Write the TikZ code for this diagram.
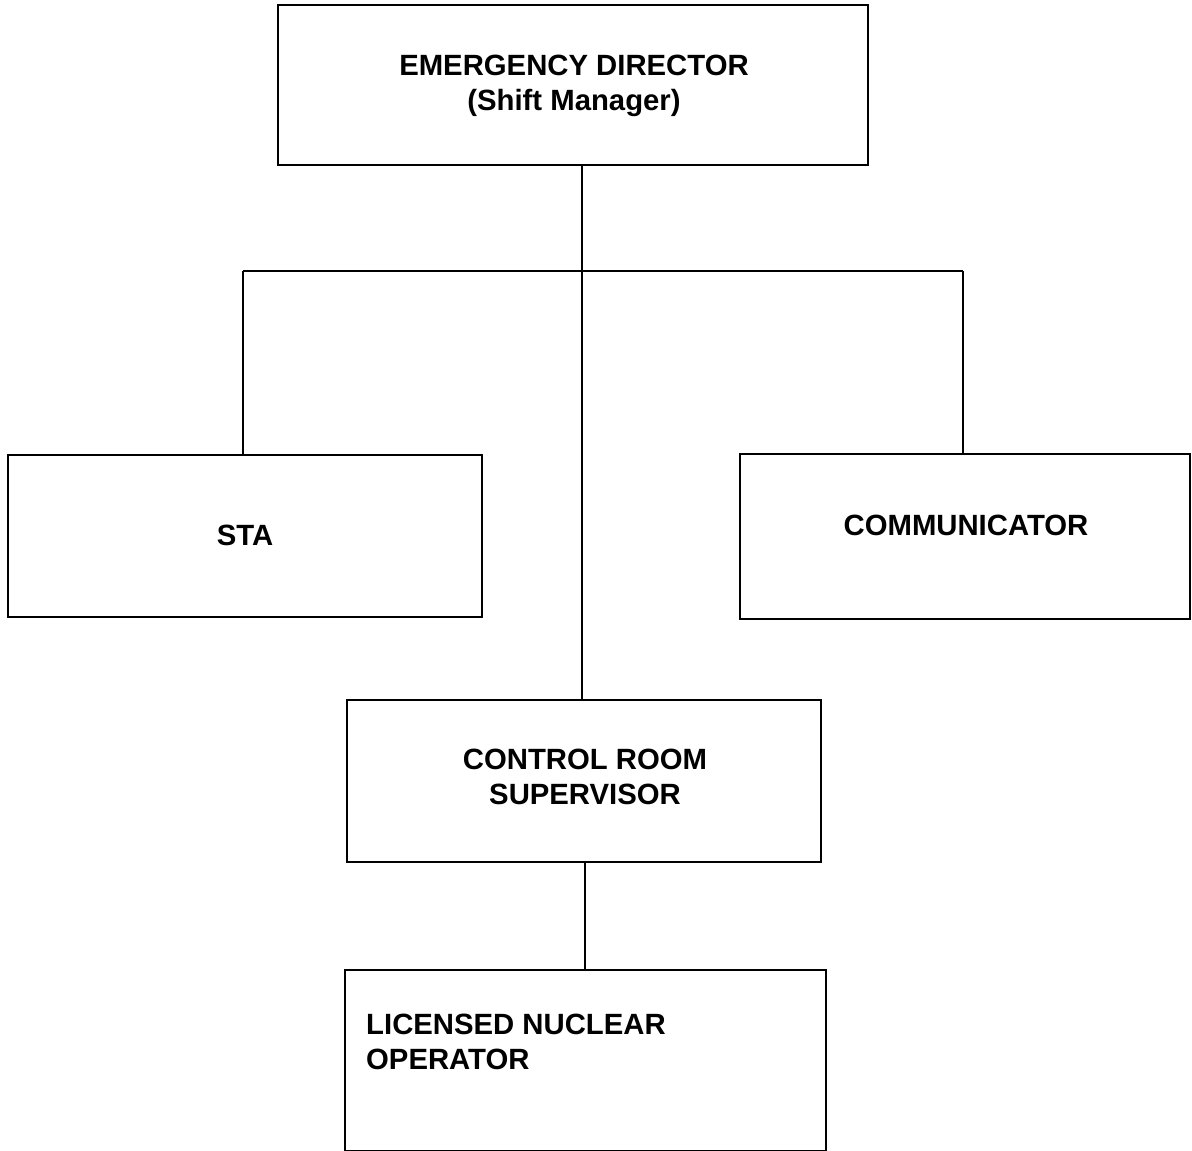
\documentclass[tikz,border=0pt]{standalone}
\usepackage{fontspec}
\setmainfont{Liberation Sans}
\usetikzlibrary{fit}
\begin{document}
\begin{tikzpicture}[x=1pt,y=-1pt,
  box/.style={draw,line width=1.8pt,inner sep=0pt},
  wire/.style={line width=1.6pt},
  lbl/.style={font=\fontsize{29.3}{35.5}\selectfont\bfseries,inner sep=0pt}]
\useasboundingbox (0,0) rectangle (1192,1151);

% boxes, each spanning its two opposite corners
\node[box,fit={(278,5)(868,165)}] (ed) {};
\node[box,fit={(8,455)(482,617)}] (sta) {};
\node[box,fit={(740,454)(1190,619)}] (com) {};
\node[box,fit={(347,700)(821,862)}] (crs) {};
\node[box,fit={(345,970)(826,1151)}] (lno) {};

% box texts
\node[lbl,align=center] (edt) at (574,86) {EMERGENCY DIRECTOR\\(Shift Manager)};
\node[lbl] (stat) at (245,535) {STA};
\node[lbl] (comt) at (966,525) {COMMUNICATOR};
\node[lbl,align=center] (crst) at (585,777) {CONTROL ROOM\\SUPERVISOR};
\node[lbl,align=left,anchor=west] (lnot) at (366,1042) {LICENSED NUCLEAR\\OPERATOR};

% branching points of the tree
\coordinate (hub) at (582,271);
\coordinate (busl) at (243,271);
\coordinate (busr) at (963,271);

% connectors
\draw[wire] (ed.south -| hub) -- (hub);
\draw[wire] (busl) -- (busr);
\draw[wire] (busl) -- (sta.north -| busl);
\draw[wire] (busr) -- (com.north -| busr);
\draw[wire] (hub) -- (crs.north -| hub);
\draw[wire] (crs.south -| 585,0) -- (lno.north -| 585,0);
\end{tikzpicture}
\end{document}
